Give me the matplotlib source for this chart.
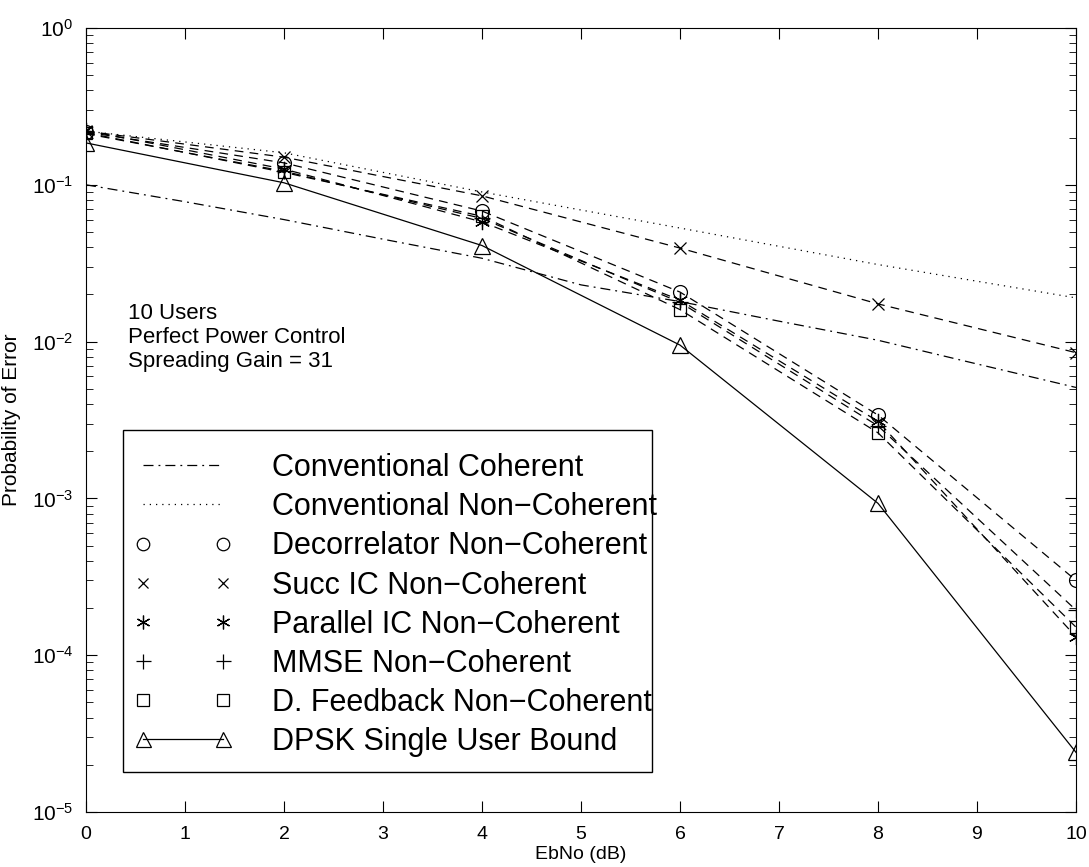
import matplotlib.pyplot as plt
from matplotlib.patches import Rectangle

plt.rcParams['font.family'] = ['Liberation Sans', 'DejaVu Sans']

# Eb/No points (dB)
ebno = [0, 2, 4, 6, 8, 10]
ebno_coh = [0, 1, 2, 3, 4, 5, 6, 7, 8, 9, 10]

# simulated / analytic bit error rates
conv_coherent = [0.1, 0.078, 0.06, 0.045, 0.034, 0.023, 0.018, 0.0135, 0.0102, 0.0072, 0.0051]
conv_noncoh = [0.22, 0.16, 0.09, 0.053, 0.031, 0.019]
decorrelator = [0.217, 0.138, 0.068, 0.0207, 0.0034, 0.0003]
succ_ic = [0.22, 0.15, 0.085, 0.0395, 0.0174, 0.0085]
parallel_ic = [0.222, 0.126, 0.058, 0.0184, 0.0031, 0.000131]
mmse = [0.212, 0.122, 0.061, 0.0178, 0.0029, 0.000194]
dfeedback = [0.215, 0.12, 0.063, 0.016, 0.00262, 0.000151]
dpsk_bound = [0.185, 0.103, 0.041, 0.0095, 0.00093, 0.000024]

W, H = 1089, 867
fig = plt.figure(figsize=(W / 100, H / 100), dpi=100)
ax = fig.add_axes([86 / W, 1 - 812 / H, 990 / W, 784 / H])

lw = 0.9
dashdot = (0, (8, 4, 1.5, 4))
dotted = (0, (1, 4))
dashed = (0, (7, 5))

ax.semilogy(ebno_coh, conv_coherent, color='k', lw=lw, ls=dashdot)
ax.semilogy(ebno, conv_noncoh, color='k', lw=lw, ls=dotted)
for vals in [decorrelator, succ_ic, parallel_ic, mmse, dfeedback]:
    ax.semilogy(ebno, vals, color='k', lw=lw, ls=dashed)

# markers drawn on their own so the legend shows them without a line
mk = dict(color='k', ls='none', mfc='none', mew=0.9)
ax.semilogy([], [], color='k', lw=lw, ls=dashdot, label='Conventional Coherent')
ax.semilogy([], [], color='k', lw=lw, ls=dotted, label='Conventional Non\u2212Coherent')
ax.semilogy(ebno, decorrelator, marker='o', ms=10, label='Decorrelator Non\u2212Coherent', **mk)
ax.semilogy(ebno, succ_ic, marker='x', ms=8, label='Succ IC Non\u2212Coherent', **mk)
ax.semilogy(ebno, parallel_ic, marker=(6, 2, 0), ms=11, label='Parallel IC Non\u2212Coherent', **mk)
ax.semilogy(ebno, mmse, marker='+', ms=12, label='MMSE Non\u2212Coherent', **mk)
ax.semilogy(ebno, dfeedback, marker='s', ms=9, label='D. Feedback Non\u2212Coherent', **mk)
ax.semilogy(ebno, dpsk_bound, color='k', lw=lw, marker='^', ms=12, mfc='none', mew=0.9,
            label='DPSK Single User Bound')

ax.set_xlim(0, 10)
ax.set_ylim(1e-5, 1)
ax.set_xticks(range(0, 11))
ax.tick_params(which='both', direction='in', top=True, right=True)
ax.tick_params(which='major', length=8)
ax.tick_params(which='minor', length=5)
ax.tick_params(axis='x', pad=10, labelsize=14)
ax.tick_params(axis='y', pad=9, labelsize=15)
ax.set_xlabel('EbNo (dB)', fontsize=14, labelpad=2)
ax.set_ylabel('Probability of Error', fontsize=15, labelpad=8)

ax.text(128 / W, 1 - 303 / H, '10 Users\nPerfect Power Control\nSpreading Gain = 31',
        transform=fig.transFigure, fontsize=16, va='top', linespacing=1.2)

# legend box (text is allowed to run over the right edge)
box = Rectangle((123 / W, 1 - 772 / H), 529 / W, 342 / H, transform=fig.transFigure,
                facecolor='white', edgecolor='k', lw=1.0, zorder=4)
ax.add_patch(box)
box.set_clip_on(False)

leg = ax.legend(loc='upper left', bbox_to_anchor=(134 / W, 1 - 453 / H),
                bbox_transform=fig.transFigure, fontsize=22, numpoints=2,
                handlelength=3.22, handletextpad=1.3, labelspacing=0.3,
                borderpad=0, borderaxespad=0, frameon=False, markerscale=0.9)
leg.set_zorder(5)

fig.savefig('out.png', dpi=100)
